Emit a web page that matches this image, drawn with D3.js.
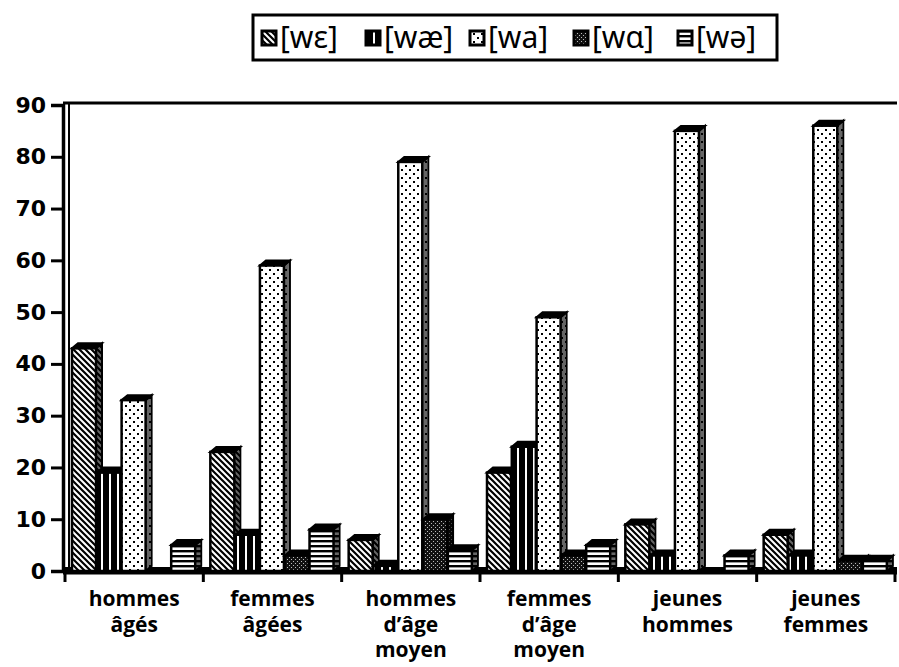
<!DOCTYPE html>
<html>
<head>
<meta charset="utf-8">
<script src="https://cdn.jsdelivr.net/npm/d3@7"></script>
<style>
  body { margin: 0; background: #fff; }
  svg { display: block; }
</style>
</head>
<body>
<div id="chart"></div>
<script>
// groups of speakers (x axis), each label split into lines
var categories = ["hommes âgés", "femmes âgées", "hommes d'âge moyen", "femmes d'âge moyen", "jeunes hommes", "jeunes femmes"];
var categoryLines = [["hommes", "âgés"], ["femmes", "âgées"], ["hommes", "d’âge", "moyen"], ["femmes", "d’âge", "moyen"], ["jeunes", "hommes"], ["jeunes", "femmes"]];
var series = ["[wɛ]", "[wæ]", "[wa]", "[wɑ]", "[wə]"];

// percentages per variant, one value per group
var wE  = [43, 23, 6, 19, 9, 7];
var wAE = [19, 7, 1, 24, 3, 3];
var wA  = [33, 59, 79, 49, 85, 86];
var wAA = [0, 3, 10, 3, 0, 2];
var wSchwa = [5, 8, 4, 5, 3, 2];
var yTicks = [0, 10, 20, 30, 40, 50, 60, 70, 80, 90];

var values = [wE, wAE, wA, wAA, wSchwa];

var width = 899, height = 667;
var depthX = 6, depthY = 5;

var svg = d3.select("#chart").append("svg")
  .attr("width", width)
  .attr("height", height);

// fill patterns, one per variant
var defs = svg.append("defs");

var p0 = defs.append("pattern").attr("id", "pat0").attr("patternUnits", "userSpaceOnUse")
  .attr("width", 6).attr("height", 6);
p0.append("rect").attr("width", 6).attr("height", 6).attr("fill", "#fff");
p0.append("path").attr("d", "M-1,-1 L7,7 M-4,2 L4,10 M2,-4 L10,4")
  .attr("stroke", "#000").attr("stroke-width", 2.2);

var p1 = defs.append("pattern").attr("id", "pat1").attr("patternUnits", "userSpaceOnUse")
  .attr("width", 8).attr("height", 8);
p1.append("rect").attr("width", 8).attr("height", 8).attr("fill", "#000");
p1.append("rect").attr("x", 5).attr("width", 2).attr("height", 8).attr("fill", "#fff");

var p2 = defs.append("pattern").attr("id", "pat2").attr("patternUnits", "userSpaceOnUse")
  .attr("width", 8).attr("height", 8);
p2.append("rect").attr("width", 8).attr("height", 8).attr("fill", "#fff");
p2.append("rect").attr("x", 1).attr("y", 1).attr("width", 2).attr("height", 2).attr("fill", "#000");
p2.append("rect").attr("x", 5).attr("y", 5).attr("width", 2).attr("height", 2).attr("fill", "#000");

var p3 = defs.append("pattern").attr("id", "pat3").attr("patternUnits", "userSpaceOnUse")
  .attr("width", 4).attr("height", 4);
p3.append("rect").attr("width", 4).attr("height", 4).attr("fill", "#111");
p3.append("rect").attr("x", 1).attr("y", 1).attr("width", 1).attr("height", 1).attr("fill", "#bbb");
p3.append("rect").attr("x", 3).attr("y", 3).attr("width", 1).attr("height", 1).attr("fill", "#bbb");

var p4 = defs.append("pattern").attr("id", "pat4").attr("patternUnits", "userSpaceOnUse")
  .attr("width", 6).attr("height", 5);
p4.append("rect").attr("width", 6).attr("height", 5).attr("fill", "#fff");
p4.append("rect").attr("y", 0).attr("width", 6).attr("height", 2.4).attr("fill", "#000");

var fills = ["url(#pat0)", "url(#pat1)", "url(#pat2)", "url(#pat3)", "url(#pat4)"];

// scales
var x0 = d3.scaleBand().domain(categories).range([65, 895]);
var x1 = d3.scaleBand().domain(series).range([7, 131]);
var y = d3.scaleLinear().domain([0, 90]).range([571, 105]);
var bw = 24;

// back wall and left wall edges
svg.append("line").attr("x1", 63).attr("x2", 897).attr("y1", y(90) - 2).attr("y2", y(90) - 2)
  .attr("stroke", "#000").attr("stroke-width", 3);
svg.append("line").attr("x1", 69).attr("x2", 69).attr("y1", y(90) - 2).attr("y2", y(0))
  .attr("stroke", "#000").attr("stroke-width", 2);

// floor
svg.append("rect").attr("x", 63).attr("y", y(0) - 4).attr("width", 834).attr("height", 7)
  .attr("fill", "#000");

// y axis
var yAxis = svg.append("g")
  .attr("transform", "translate(63,0)")
  .call(d3.axisLeft(y).tickValues(yTicks).tickSize(12).tickPadding(5));
yAxis.select(".domain").attr("stroke-width", 3.5);
yAxis.selectAll(".tick line").attr("stroke-width", 3);
yAxis.selectAll(".tick text")
  .attr("font-family", "'DejaVu Sans', sans-serif")
  .attr("font-weight", 700)
  .attr("font-size", 22)
  .attr("fill", "#000");

// x axis: ticks on the group boundaries
var xAxis = svg.append("g").attr("transform", "translate(0," + (y(0) + 2) + ")");
xAxis.append("line").attr("x1", 63).attr("x2", 897).attr("stroke", "#000").attr("stroke-width", 3);
var bounds = categories.map(function(c) { return x0(c); }).concat([x0.range()[1]]);
xAxis.selectAll(".btick").data(bounds).enter().append("line")
  .attr("class", "btick")
  .attr("x1", function(d) { return d; }).attr("x2", function(d) { return d; })
  .attr("y1", 0).attr("y2", 9)
  .attr("stroke", "#000").attr("stroke-width", 3);

var labels = xAxis.selectAll(".clabel").data(categories).enter().append("text")
  .attr("class", "clabel")
  .attr("text-anchor", "middle")
  .attr("font-family", "'Open Sans', Lato, sans-serif")
  .attr("font-weight", 700)
  .attr("font-size", 21)
  .attr("fill", "#000");
labels.each(function(c, i) {
  var t = d3.select(this);
  categoryLines[i].forEach(function(line, j) {
    t.append("tspan")
      .attr("x", x0(c) + x0.bandwidth() / 2)
      .attr("y", 33 + j * 25.5)
      .text(line);
  });
});

// 3d bars, drawn left to right so each front covers the previous side
var bars = svg.append("g");
categories.forEach(function(c, ci) {
  series.forEach(function(s, si) {
    var v = values[si][ci];
    if (v <= 0) return;
    var xf = x0(c) + x1(s);
    var yt = y(v), yb = y(0);
    var g = bars.append("g");
    // side face
    g.append("polygon")
      .attr("points", [[xf + bw, yt], [xf + bw + depthX, yt - depthY], [xf + bw + depthX, yb - depthY], [xf + bw, yb]].join(" "))
      .attr("fill", fills[si]).attr("stroke", "#000").attr("stroke-width", 2);
    g.append("polygon")
      .attr("points", [[xf + bw + 1, yt], [xf + bw + depthX - 1, yt - depthY], [xf + bw + depthX - 1, yb - depthY], [xf + bw + 1, yb]].join(" "))
      .attr("fill", "#000").attr("opacity", 0.6);
    // top face
    g.append("polygon")
      .attr("points", [[xf, yt], [xf + depthX, yt - depthY], [xf + bw + depthX, yt - depthY], [xf + bw, yt]].join(" "))
      .attr("fill", "#000").attr("stroke", "#000").attr("stroke-width", 2);
    // front face
    g.append("rect")
      .attr("x", xf).attr("y", yt)
      .attr("width", bw).attr("height", yb - yt)
      .attr("fill", fills[si]).attr("stroke", "#000").attr("stroke-width", 2.5);
  });
});

// legend box on top
var legend = svg.append("g");
legend.append("rect")
  .attr("x", 253).attr("y", 15).attr("width", 524).attr("height", 45)
  .attr("fill", "#fff").attr("stroke", "#000").attr("stroke-width", 3);
var itemX = d3.scalePoint().domain(series).range([262, 678]);
series.forEach(function(s, si) {
  var lx = itemX(s);
  legend.append("rect")
    .attr("x", lx).attr("y", 31).attr("width", 14).attr("height", 14)
    .attr("fill", fills[si]).attr("stroke", "#000").attr("stroke-width", 3);
  legend.append("text")
    .attr("x", lx + 18).attr("y", 48)
    .attr("font-family", "'Noto Sans', 'DejaVu Sans', sans-serif")
    .attr("font-size", 30)
    .attr("fill", "#000")
    .text(s);
});
</script>
</body>
</html>
